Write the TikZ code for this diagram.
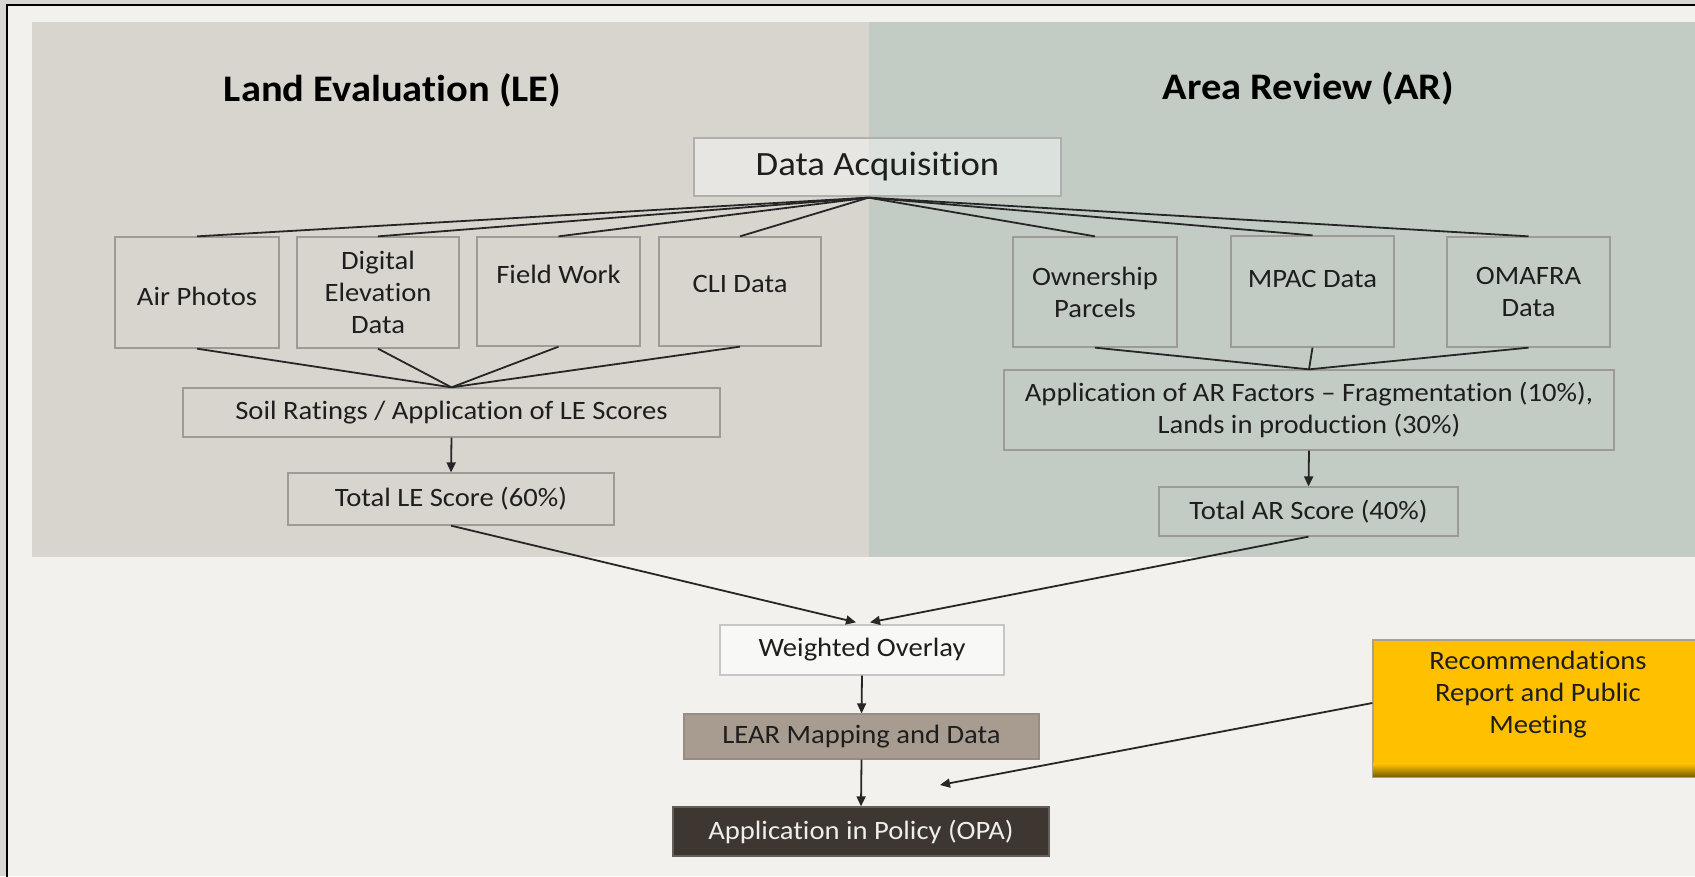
\documentclass[tikz,border=0pt]{standalone}
\usepackage{fontspec}
\setmainfont{Carlito}[FakeStretch=1.08, Ligatures=CommonOff]
\usetikzlibrary{arrows.meta,calc}
\definecolor{outerc}{HTML}{D9D7D1}
\definecolor{bgc}{HTML}{F2F1ED}
\definecolor{lec}{HTML}{D8D4CE}
\definecolor{arc}{HTML}{C2CCC4}
\definecolor{boxdraw}{HTML}{9E9B97}
\definecolor{linec}{HTML}{262626}
\definecolor{txtc}{HTML}{1E1E1E}
\definecolor{wofill}{HTML}{F8F8F6}
\definecolor{wodraw}{HTML}{C6C6C4}
\definecolor{learfill}{HTML}{A89C91}
\definecolor{leardraw}{HTML}{988D85}
\definecolor{appfill}{HTML}{3D3631}
\definecolor{apptxt}{HTML}{EEEEEC}
\definecolor{recfill}{HTML}{FFC000}
\definecolor{recdark}{HTML}{7A5C00}
\definecolor{recdraw}{HTML}{A8A290}
\newcommand{\boxfont}{\fontsize{26.5}{32}\selectfont}
\newcommand{\titlefont}{\fontsize{37.5}{44}\selectfont\bfseries}
\newcommand{\dafont}{\fontsize{34}{40}\selectfont}
\newcommand{\up}[2]{\raisebox{#1pt}[\height][\depth]{#2}}
\tikzset{
  box/.style={draw=boxdraw, line width=1.3, rectangle, inner sep=0pt,
    align=center, font=\boxfont, text=txtc},
  conn/.style={draw=linec, line width=1.8},
  arr/.style={conn, -{Triangle[length=10pt,width=9pt]}},
  titletext/.style={anchor=base, font=\titlefont, text=black, inner sep=0pt}
}
\begin{document}
\begin{tikzpicture}[x=1pt,y=-1pt]
\useasboundingbox (0,0) rectangle (1695,876);
\clip (0,0) rectangle (1695,876);
% backgrounds
\fill[outerc] (0,0) rectangle (1695,876);
\fill[bgc] (7,5) rectangle (1695,876);
\draw[black, line width=1.8] (7,880) -- (7,5) -- (1700,5);
\fill[lec] (32,22) rectangle (869,557);
\fill[arc] (869,22) rectangle (1695,557);
% titles
\node[titletext] (tLE) at (392.5,101.5) {Land Evaluation (LE)};
\node[titletext] (tAR) at (1308.5,99) {Area Review (AR)};
% data acquisition
\node[box, draw=boxdraw!80, fill=white, fill opacity=0.42, text opacity=1,
  minimum width=367, minimum height=58, font=\dafont] (da) at (877.5,167) {Data Acquisition};
% LE inputs
\node[box, minimum width=164, minimum height=111] (air) at (197,292.5) {\up{-4}{Air Photos}};
\node[box, minimum width=162, minimum height=111] (dig) at (378,292.5) {Digital\\Elevation\\Data};
\node[box, minimum width=163, minimum height=109] (fw) at (558.5,291.5) {\up{17.5}{Field Work}};
\node[box, minimum width=162, minimum height=109] (cli) at (740,291.5) {\up{7.5}{CLI Data}};
% AR inputs
\node[box, minimum width=164, minimum height=110] (own) at (1095,292) {Ownership\\Parcels};
\node[box, minimum width=163, minimum height=111] (mpac) at (1312.5,291.5) {\up{12.5}{MPAC Data}};
\node[box, minimum width=163, minimum height=110] (oma) at (1528.5,292) {OMAFRA\\Data};
% middle level
\node[box, minimum width=537, minimum height=49] (soil) at (451.5,412.5) {Soil Ratings / Application of LE Scores};
\node[box, minimum width=326, minimum height=52] (tle) at (451,499) {Total LE Score (60\%)};
\node[box, minimum width=610, minimum height=80] (arf) at (1309,410) {Application of AR Factors -- Fragmentation (10\%),\\Lands in production (30\%)};
\node[box, minimum width=299, minimum height=49] (tar) at (1308.5,511.5) {Total AR Score (40\%)};
% bottom chain
\node[box, draw=wodraw, fill=wofill, minimum width=284, minimum height=50] (wo) at (862,650) {Weighted Overlay};
\node[box, draw=leardraw, fill=learfill, minimum width=355, minimum height=45] (lear) at (861.5,736.5) {LEAR Mapping and Data};
\node[box, draw=appfill!80!white, fill=appfill, text=apptxt, minimum width=376, minimum height=49] (app) at (861,831.5) {Application in Policy (OPA)};
% recommendations
\node[box, draw=recdraw, fill=recfill, minimum width=330, minimum height=137] (rec) at (1538,708.5) {};
\shade[top color=recfill, bottom color=recdark] ($(rec.south west)+(0.7,-14)$) rectangle ($(rec.south east)+(-0.7,-0.7)$);
\draw[recdraw, line width=1.3] (rec.south west) rectangle (rec.north east);
\node[inner sep=0pt, font=\boxfont, text=txtc, align=center] (rectext) at (1538,695) {Recommendations\\Report and Public\\Meeting};
% connectors from data acquisition
\coordinate (daj) at ($(da.south)+(-9,1)$);
\foreach \n in {air,dig,fw,cli,own,mpac,oma} \draw[conn] (daj) -- (\n.north);
% into soil ratings and AR factors
\foreach \n in {air,dig,fw,cli} \draw[conn] (\n.south) -- (soil.north);
\foreach \n in {own,mpac,oma} \draw[conn] (\n.south) -- (arf.north);
% arrows
\draw[arr] (soil.south) -- (tle.north);
\draw[arr] (arf.south) -- (tar.north);
\coordinate (tipL) at ($(wo.north)+(-6,-2)$);
\coordinate (tipR) at ($(wo.north)+(8,-2)$);
\draw[arr] (tle.south) -- (tipL);
\draw[arr] (tar.south) -- (tipR);
\draw[arr] (wo.south) -- (lear.north);
\draw[arr] (lear.south) -- (app.north);
\coordinate (recend) at (940,785);
\draw[arr] ($(rec.west)+(0,-5.5)$) -- (recend);
\end{tikzpicture}
\end{document}
